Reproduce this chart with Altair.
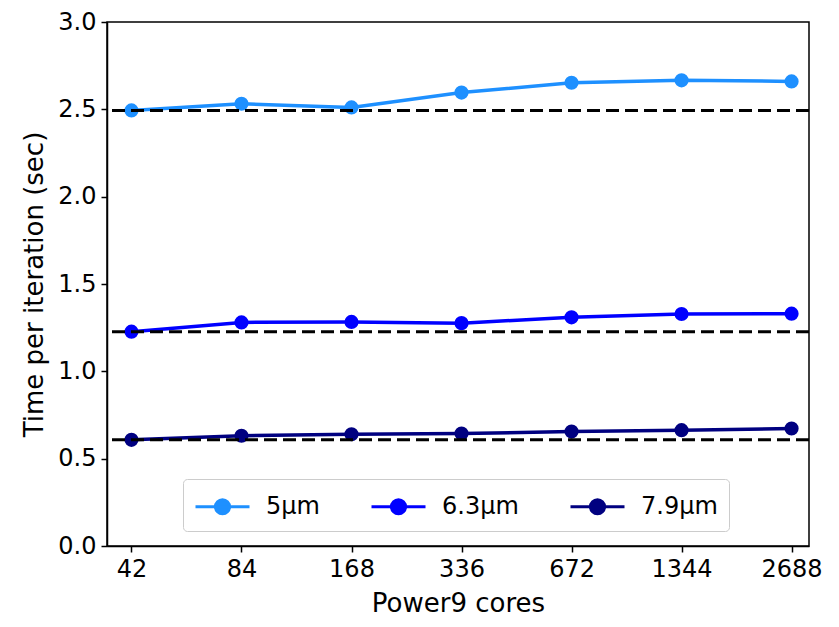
import altair as alt
import pandas as pd

cores = [42, 84, 168, 336, 672, 1344, 2688]
series_names = ["5μm", "6.3μm", "7.9μm"]
t_5um = [2.494, 2.532, 2.511, 2.596, 2.652, 2.666, 2.660]
t_63um = [1.227, 1.280, 1.283, 1.276, 1.309, 1.328, 1.330]
t_79um = [0.608, 0.631, 0.640, 0.644, 0.655, 0.663, 0.673]
baselines = [2.494, 1.227, 0.608]
colors = ["#1E90FF", "#0000FF", "#000080"]
y_ticks = [0.0, 0.5, 1.0, 1.5, 2.0, 2.5, 3.0]

rows = []
for name, vals in zip(series_names, [t_5um, t_63um, t_79um]):
    for c, v in zip(cores, vals):
        rows.append({"cores": c, "time": v, "series": name})
df = pd.DataFrame(rows)
base_df = pd.DataFrame({"base": baselines})

FONT = "DejaVu Sans"

x_enc = alt.X("cores:Q",
              scale=alt.Scale(type="log", base=2, domain=[36, 3000], nice=False),
              axis=alt.Axis(values=cores, format="d", title="Power9 cores"))
y_enc = alt.Y("time:Q",
              scale=alt.Scale(domain=[0, 3.0], nice=False, zero=True),
              axis=alt.Axis(values=y_ticks, format=".1f", title="Time per iteration (sec)"))

symbol_path = ("M-1,0L2.6,0M0.33,0A0.47,0.47,0,1,0,1.27,0A0.47,0.47,0,1,0,0.33,0Z")

color_enc = alt.Color("series:N",
                      scale=alt.Scale(domain=series_names, range=colors),
                      legend=alt.Legend(title=None, orient="none", direction="horizontal",
                                        legendX=76, legendY=457,
                                        symbolType=symbol_path, symbolSize=900,
                                        symbolStrokeWidth=3,
                                        labelOffset=39, columnPadding=45,
                                        labelFont=FONT, labelFontSize=24, labelColor="black",
                                        padding=11, strokeColor="#cccccc", cornerRadius=4,
                                        fillColor="white"))

lines = alt.Chart(df).mark_line(strokeWidth=3.5).encode(x=x_enc, y=y_enc, color=color_enc)
points = alt.Chart(df).mark_point(filled=True, size=200, opacity=1).encode(
    x="cores:Q", y="time:Q", color=alt.Color("series:N"))
rules = alt.Chart(base_df).mark_rule(color="black", strokeWidth=3, strokeDash=[13, 6]).encode(
    y="base:Q")

chart = alt.layer(lines, points, rules).properties(
    width=702, height=524,
    autosize=alt.AutoSizeParams(type="none"),
    padding={"left": 99, "top": 14, "right": 22, "bottom": 72},
).configure_view(stroke="black", strokeWidth=1.5).configure_axis(
    domainColor="black", domainWidth=1.5, tickColor="black", tickWidth=1.5, tickSize=6,
    labelFont=FONT, labelFontSize=24, labelColor="black", labelPadding=5,
    titleFont=FONT, titleFontSize=26, titleColor="black", titleFontWeight="normal",
    grid=False,
).configure_axisX(titlePadding=9).configure_axisY(titlePadding=10)

chart.save("out.html", embed_options={"renderer": "svg", "actions": False})
